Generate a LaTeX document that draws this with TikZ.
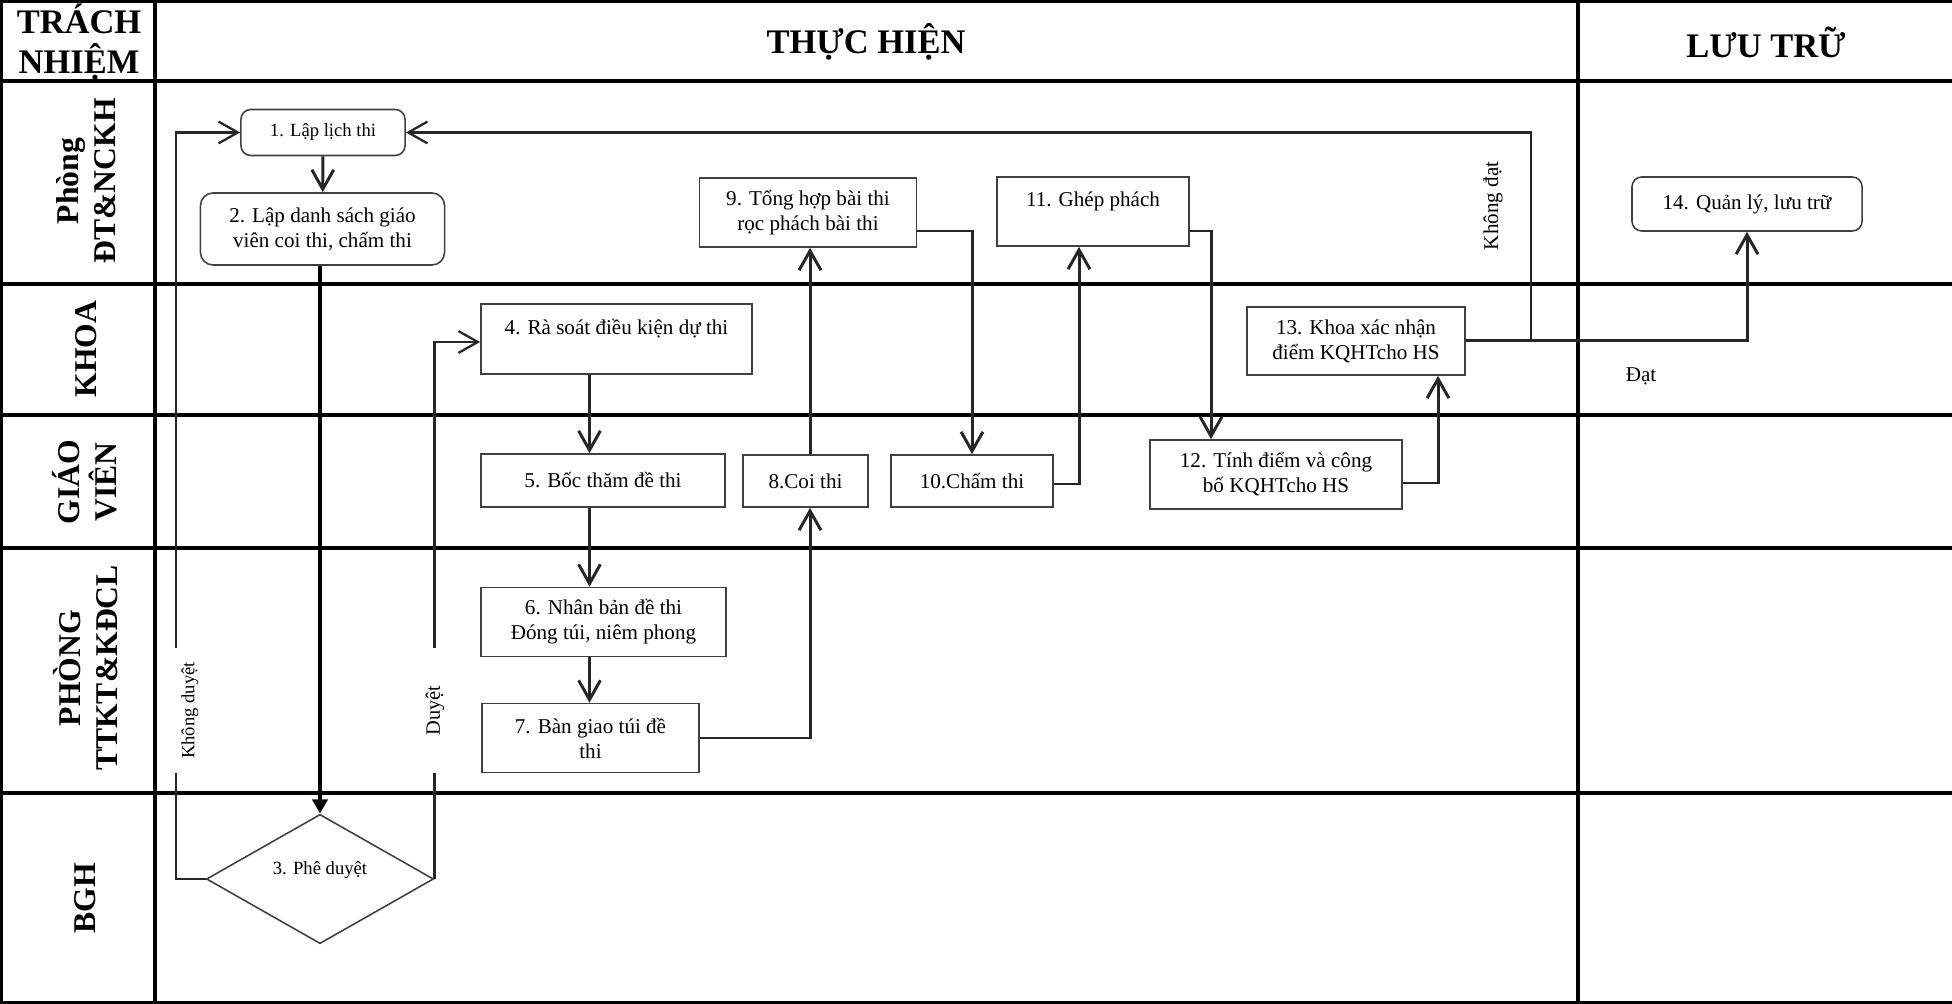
\documentclass[tikz,border=0pt]{standalone}
\usepackage{fontspec}
\setmainfont{Liberation Serif}
\usetikzlibrary{arrows.meta,shapes.geometric}
\begin{document}
\begin{tikzpicture}[x=0.01cm,y=-0.01cm,
  grid/.style={line width=0.9pt, black},
  box/.style={draw=black!75, line width=0.45pt, align=center, inner sep=0pt, font=\fontsize{6}{7.1}\selectfont},
  rbox/.style={box, rounded corners=2.8pt},
  conn/.style={line width=0.85pt, draw=black!85, -{Straight Barb[length=5.5pt,width=6.2pt]}},
  loopc/.style={conn, line width=0.65pt},
  lane/.style={rotate=90, font=\fontsize{9}{10.5}\selectfont\bfseries, align=center},
  head/.style={font=\fontsize{9.8}{11.4}\selectfont\bfseries, align=center},
  lbl/.style={font=\fontsize{5.3}{6.3}\selectfont},
]
\useasboundingbox (0,0) rectangle (1952,1004);
% grid
\draw[grid] (0,1) -- (1952,1);
\draw[grid] (0,81) -- (1952,81);
\draw[grid] (0,284) -- (1952,284);
\draw[grid] (0,415) -- (1952,415);
\draw[grid] (0,548) -- (1952,548);
\draw[grid] (0,793) -- (1952,793);
\draw[grid] (0,1002.5) -- (1952,1002.5);
\draw[grid] (1.5,0) -- (1.5,1004);
\draw[grid] (155,0) -- (155,1004);
\draw[grid] (1578,0) -- (1578,1004);
% headers
\node[head] (hTN) at (79,42) {TRÁCH\\NHIỆM};
\node[head] (hTH) at (866,42) {THỰC HIỆN};
\node[head] (hLT) at (1766,42) {LƯU TRỮ};
% lanes
\node[lane] (l1) at (86,181) {Phòng\\ĐT\&NCKH};
\node[lane] (l2) at (86,349) {KHOA};
\node[lane] (l3) at (85,482) {GIÁO\\VIÊN};
\node[lane] (l4) at (86,668) {PHÒNG\\TTKT\&KĐCL};
\node[lane] (l5) at (85,898) {BGH};
% boxes
\node[rbox, minimum width=16.4mm, minimum height=4.6mm, font=\fontsize{5.3}{6.3}\selectfont] (b1) at (323,132.5) {1. Lập lịch thi};
\node[rbox, rounded corners=3.6pt, minimum width=24.4mm, minimum height=7.2mm] (b2) at (322.5,229) {2. Lập danh sách giáo\\viên coi thi, chấm thi};
\node[draw=black!75, line width=0.45pt, diamond, minimum width=22.7mm, minimum height=12.2mm, inner sep=0pt, align=center, font=\fontsize{5.3}{6.3}\selectfont] (d3) at (320,879) {3. Phê duyệt\\\mbox{}};
\node[box, minimum width=27.1mm, minimum height=7mm] (b4) at (616.5,339) {4. Rà soát điều kiện dự thi\\\mbox{}};
\node[box, minimum width=24.4mm, minimum height=5.3mm] (b5) at (603,480.5) {5. Bốc thăm đề thi};
\node[box, minimum width=24.5mm, minimum height=6.9mm] (b6) at (603.5,622) {6. Nhân bản đề thi\\Đóng túi, niêm phong};
\node[box, minimum width=21.7mm, minimum height=6.9mm] (b7) at (590.5,738) {7. Bàn giao túi đề\\thi};
\node[box, minimum width=12.5mm, minimum height=5.2mm] (b8) at (805.5,481) {8.Coi thi};
\node[box, minimum width=21.7mm, minimum height=6.9mm] (b9) at (808,212.5) {9. Tổng hợp bài thi\\rọc phách bài thi};
\node[box, minimum width=16.2mm, minimum height=5.2mm] (b10) at (972,481) {10.Chấm thi};
\node[box, minimum width=19.2mm, minimum height=6.9mm] (b11) at (1093,211.5) {11. Ghép phách\\\mbox{}};
\node[box, minimum width=25.2mm, minimum height=6.9mm] (b12) at (1276,474.5) {12. Tính điểm và công\\bố KQHTcho HS};
\node[box, minimum width=21.8mm, minimum height=6.8mm] (b13) at (1356,341) {13. Khoa xác nhận\\điểm KQHTcho HS};
\node[rbox, minimum width=23mm, minimum height=5.4mm] (b14) at (1747,204) {14. Quản lý, lưu trữ};
% helper coordinates
\coordinate (xA) at (589.5,0);
\coordinate (xB) at (810,0);
\coordinate (xC) at (1079,0);
\coordinate (xD) at (1211,0);
\coordinate (xE) at (1438,0);
\coordinate (kd) at (176,132.5);
\coordinate (kdat) at (1531,132.5);
% connectors
\draw[conn] (b1) -- (b2);
\draw[line width=0.95pt, -{Triangle[length=4pt,width=4.3pt]}] (b2.south -| d3.north) -- (d3.north);
\draw[loopc] (d3.west) -| (kd) -- (b1.west);
\draw[loopc] (d3.east) |- ([yshift=-0.3mm]b4.west);
\draw[conn] (b4.south -| xA) -- (b5.north -| xA);
\draw[conn] (b5.south -| xA) -- (b6.north -| xA);
\draw[conn] (b6.south -| xA) -- (b7.north -| xA);
\draw[conn] (b7.east) -| (b8.south -| xB);
\draw[conn] (b8.north -| xB) -- (b9.south -| xB);
\draw[conn] ([yshift=-1.85mm]b9.east) -| (b10.north);
\draw[conn] ([yshift=-0.3mm]b10.east) -| (b11.south -| xC);
\draw[conn] ([yshift=-1.95mm]b11.east) -| (b12.north -| xD);
\draw[conn] ([yshift=-0.85mm]b12.east) -| (b13.south -| xE);
\draw[conn] (b13.east) -| (b14.south);
\draw[loopc] (b13.east) -| (kdat) -- (b1.east);
% labels
\node[lbl, rotate=90, fill=white, minimum width=12.5mm, minimum height=3.6mm, inner sep=0pt] (tkd) at (190,710.5) {Không duyệt};
\node[lbl, rotate=90, fill=white, minimum width=12.5mm, minimum height=3.6mm, inner sep=0pt, font=\fontsize{5.8}{7}\selectfont] (tdy) at (435,710.5) {Duyệt};
\node[font=\fontsize{6}{7}\selectfont, rotate=90] (tkdat) at (1493,206) {Không đạt};
\node[font=\fontsize{6}{7}\selectfont] (tdat) at (1641,376) {Đạt};
\end{tikzpicture}
\end{document}
